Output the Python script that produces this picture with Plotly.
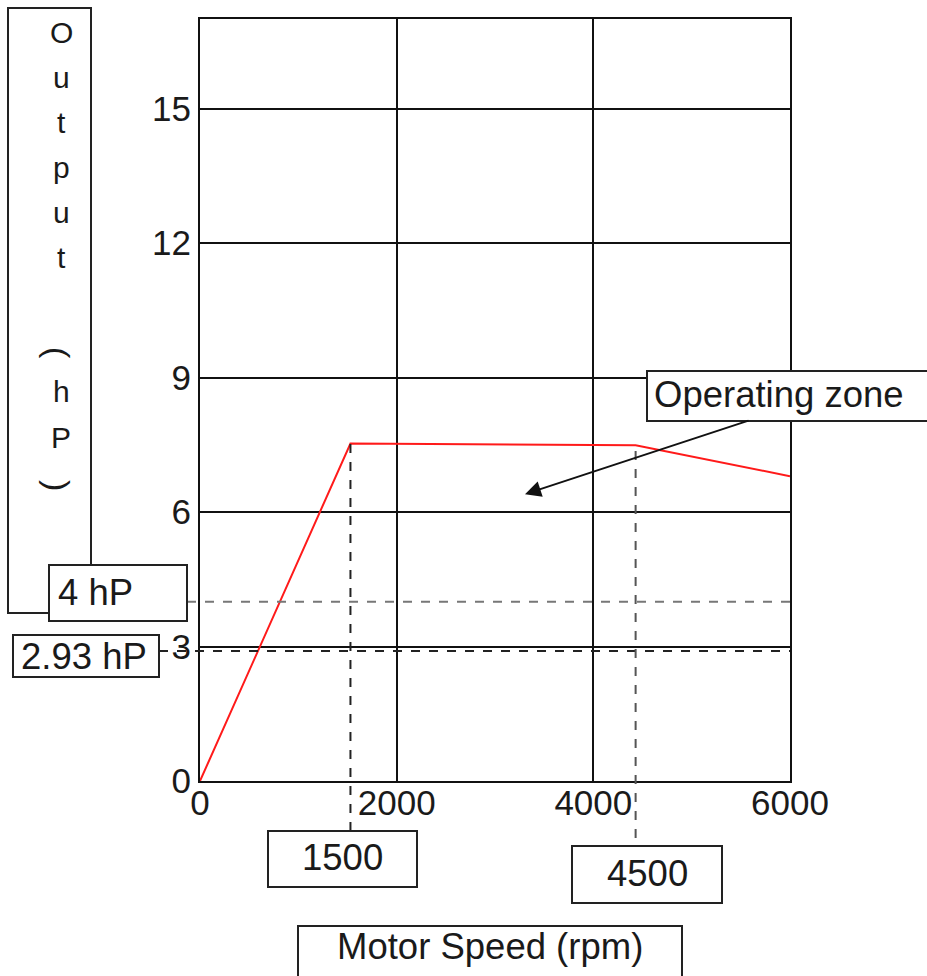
import plotly.graph_objects as go

# ---- data ----
speed_rpm = [0, 1530, 4430, 6000]
output_hp = [0, 7.53, 7.49, 6.80]
x_ticks = [0, 2000, 4000, 6000]
y_ticks = [0, 3, 6, 9, 12, 15]
x_range = [0, 6000]
y_range = [0, 17]
ref_levels_hp = [4.0, 2.9]
ref_level_labels = ["4 hP", "2.93 hP"]
ref_speeds = [1530, 4430]
ref_speed_labels = ["1500", "4500"]
zone_point = [3305, 6.40]
zone_label = "Operating zone"
x_title = "Motor Speed (rpm)"
y_title_chars = ["O", "u", "t", "p", "u", "t", "(", "h", "P", ")"]

# ---- layout geometry ----
W, H = 927, 976
L, R, T, B = 200, 137, 19, 195
pw = W - L - R
ph = H - T - B
FONT = "Liberation Sans, Arial, sans-serif"
TXT = "#1a1a1a"


def px(xp):
    return (xp - L) / pw


def py(yp):
    return (H - B - yp) / ph


fig = go.Figure()
fig.add_trace(go.Scatter(x=speed_rpm, y=output_hp, mode="lines",
                         line=dict(color="#ff1a1a", width=2), showlegend=False,
                         hoverinfo="skip"))

shapes = []


def box(x0, y0, x1, y1):
    shapes.append(dict(type="rect", xref="paper", yref="paper",
                       x0=px(x0), x1=px(x1), y0=py(y1), y1=py(y0),
                       line=dict(color="#222", width=2), fillcolor="white",
                       layer="above"))


# reference dashed lines
shapes.append(dict(type="line", xref="paper", yref="y", x0=px(187), x1=1,
                   y0=ref_levels_hp[0], y1=ref_levels_hp[0],
                   line=dict(color="#777", width=2, dash="dash"), layer="above"))
shapes.append(dict(type="line", xref="paper", yref="y", x0=px(159), x1=1,
                   y0=ref_levels_hp[1], y1=ref_levels_hp[1],
                   line=dict(color="#222", width=2, dash="dash"), layer="above"))
shapes.append(dict(type="line", xref="x", yref="paper", x0=ref_speeds[0], x1=ref_speeds[0],
                   y0=py(831), y1=output_hp[1] / y_range[1],
                   line=dict(color="#222", width=2, dash="dash"), layer="above"))
shapes.append(dict(type="line", xref="x", yref="paper", x0=ref_speeds[1], x1=ref_speeds[1],
                   y0=py(838), y1=output_hp[2] / y_range[1],
                   line=dict(color="#555", width=2, dash="dash"), layer="above"))

# boxes
box(8, 8, 91, 613)        # y title box
box(49, 565, 187, 621)    # 4 hP
box(13, 635, 159, 677)    # 2.93 hP
box(268, 831, 417, 887)   # 1500
box(572, 846, 722, 903)   # 4500
box(298, 926, 682, 1000)  # x title
box(647, 371, 945, 421)   # operating zone

annotations = []


def label(text, xp, yp, size=36.5, xanchor="center", angle=0):
    annotations.append(dict(text=text, xref="paper", yref="paper",
                            x=px(xp), y=py(yp), xanchor=xanchor, yanchor="middle",
                            showarrow=False, textangle=angle,
                            font=dict(family=FONT, size=size, color=TXT)))


# vertical y-axis title characters (parentheses turned sideways)
y_centres = [32, 77, 122, 167, 212, 257, 353, 392, 437, 485]
for ch, yc in zip(y_title_chars, y_centres):
    if ch in "()":
        label(ch, 58, yc, size=34, angle=90)
    else:
        label(ch, 61, yc, size=30)

label(ref_level_labels[0], 56, 592, xanchor="left")
label(ref_level_labels[1], 19, 656, xanchor="left")
label(ref_speed_labels[0], 342, 857)
label(ref_speed_labels[1], 647, 873)
label(x_title, 490, 946)
label(zone_label, 652, 394, xanchor="left")

# arrow
annotations.append(dict(x=zone_point[0], y=zone_point[1], xref="x", yref="y",
                        ax=225, ay=-74, showarrow=True, arrowhead=2, arrowsize=1.6,
                        arrowwidth=2, arrowcolor="#111", text=""))

axis_common = dict(showgrid=True, gridcolor="#111", gridwidth=2, showline=True,
                   linecolor="#111", linewidth=2, mirror=True, zeroline=False,
                   ticks="", tickfont=dict(family=FONT, size=35, color=TXT))

fig.update_layout(
    width=W, height=H, margin=dict(l=L, r=R, t=T, b=B, pad=0),
    paper_bgcolor="white", plot_bgcolor="white",
    xaxis=dict(range=x_range, tickvals=x_ticks, ticktext=[str(v) for v in x_ticks],
               ticklabelstandoff=-10, **axis_common),
    yaxis=dict(range=y_range, tickvals=y_ticks, ticktext=[str(v) for v in y_ticks],
               **axis_common),
    shapes=shapes, annotations=annotations, showlegend=False,
)

fig.write_html("out.html", config={"displayModeBar": False},
               post_script="document.body.style.margin='0';document.body.style.overflow='hidden';")
